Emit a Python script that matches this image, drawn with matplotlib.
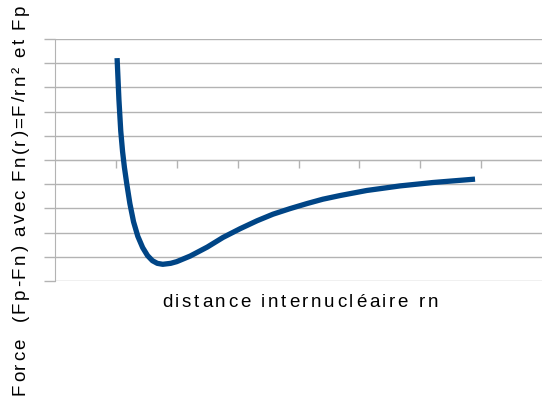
import matplotlib
matplotlib.use("Agg")
import matplotlib.pyplot as plt
import numpy as np
from matplotlib import font_manager
from matplotlib.ft2font import FT2Font

# Data (distance, force)
r_values = [1.02, 1.05, 1.08, 1.11, 1.14, 1.18, 1.23, 1.29, 1.36, 1.44, 1.52, 1.60, 1.68, 1.77, 1.90, 2.00, 2.22, 2.50, 2.76, 3.04, 3.32, 3.58, 3.86, 4.14, 4.40, 4.68, 5.12, 5.67, 6.21, 6.90]
force_values = [4.21, 2.50, 1.20, 0.35, -0.30, -1.00, -1.80, -2.55, -3.15, -3.62, -3.95, -4.16, -4.27, -4.31, -4.27, -4.20, -3.97, -3.60, -3.20, -2.84, -2.51, -2.24, -2.01, -1.80, -1.62, -1.47, -1.26, -1.07, -0.93, -0.79]

x_label = "distance internucléaire rn"
y_label = "Force  (Fp-Fn) avec Fn(r)=F/rn² et Fp"

FONT = 'Liberation Sans'
plt.rcParams['font.family'] = [FONT, 'DejaVu Sans']

W, H = 542, 399
DPI = 100
fig = plt.figure(figsize=(W / DPI, H / DPI), dpi=DPI)
ax = fig.add_axes([55 / W, 1 - 281 / H, (542 - 55) / W, (281 - 39) / H])

grid_color = '#b3b3b3'
ax.set_xlim(0, 8)
ax.set_ylim(-5, 5)
ax.set_yticks(np.arange(-5, 6, 1))
ax.set_xticks(np.arange(1, 8, 1))
ax.yaxis.grid(True, color=grid_color, linewidth=1)
ax.set_axisbelow(True)
ax.set_xticklabels([])
ax.set_yticklabels([])

for s in ['top', 'right']:
    ax.spines[s].set_visible(False)
ax.spines['left'].set_color(grid_color)
ax.spines['bottom'].set_position(('data', 0))
ax.spines['bottom'].set_color(grid_color)
ax.tick_params(axis='y', direction='out', length=8, color=grid_color, width=1)
ax.tick_params(axis='x', direction='out', length=6, color=grid_color, width=1)

ax.plot(r_values, force_values, color='#004586', linewidth=3.8,
        solid_capstyle='butt', solid_joinstyle='round', zorder=3)

# --- letter-spaced text (the reference uses wide tracking) ---
font_path = font_manager.findfont(FONT)
ft = FT2Font(font_path)


def advances(s, size):
    ft.set_size(size, DPI)
    out = []
    for c in s:
        g = ft.load_char(ord(c))
        out.append(g.linearHoriAdvance / 65536.0)
    return out


def tracked_text(s, start_px, end_px, base_px, size, vertical=False):
    adv = advances(s, size)
    natural = sum(adv)
    track = (abs(end_px - start_px) - natural) / (len(s) - 1)
    pos = 0.0
    for c, a in zip(s, adv):
        if c != ' ':
            if vertical:
                fig.text(base_px / W, 1 - (start_px - pos) / H, c, fontsize=size,
                         rotation=90, rotation_mode='anchor', ha='left', va='baseline')
            else:
                fig.text((start_px + pos) / W, 1 - base_px / H, c, fontsize=size,
                         ha='left', va='baseline')
        pos += a + track


tracked_text(x_label, 162, 438, 307, 13.5)
tracked_text(y_label, 395, 5, 25, 13.5, vertical=True)

fig.savefig('out.png', dpi=DPI)
